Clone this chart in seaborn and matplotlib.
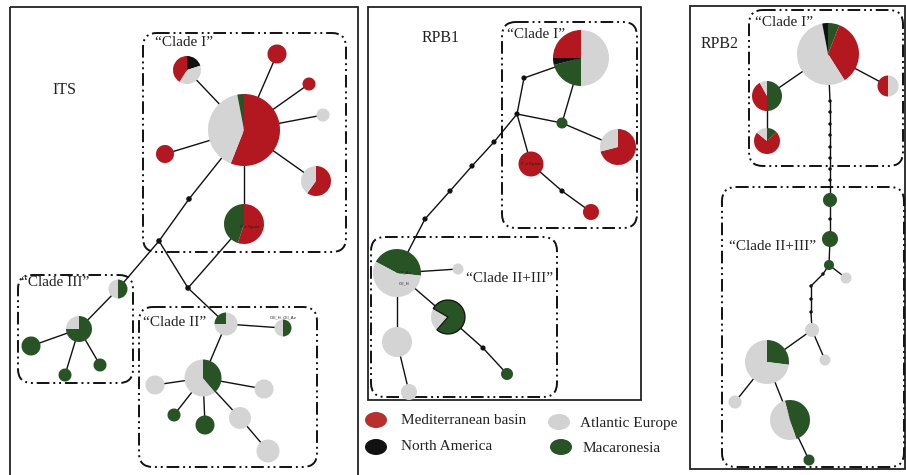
import numpy as np
import pandas as pd
import matplotlib
matplotlib.use("Agg")
import matplotlib.pyplot as plt
from matplotlib.patches import Wedge, FancyBboxPatch, Rectangle, Ellipse
import seaborn as sns

sns.set_theme(style="white")
plt.rcParams["font.family"] = ["Liberation Serif", "DejaVu Serif"]

# ---------------- colours / regions ----------------
regions = ["MB", "NA", "AE", "MAC"]
region_labels = ["Mediterranean basin", "North America", "Atlantic Europe", "Macaronesia"]
region_colors = ["#b3171f", "#111111", "#d4d4d4", "#285325"]
COL = dict(zip(regions, region_colors))

# ---------------- ITS network ----------------
its_names = ["c", "tl", "t", "r1", "r2", "l", "br", "b",
             "c3a", "c3", "c3b", "c3c", "c3d",
             "c2a", "c2b", "c2", "c2c", "c2d", "c2e", "c2f", "c2g", "c2h"]
its_x = [244, 187, 277, 309, 323, 165, 316, 244,
         118, 79, 31, 65, 100,
         226, 283, 203, 155, 264, 174, 205, 240, 268]
its_y = [130, 70, 54, 84, 115, 154, 181, 224,
         289, 329, 346, 375, 365,
         324, 328, 378, 385, 389, 415, 425, 418, 451]
its_r = [36, 14, 9.5, 6.5, 6.5, 9, 15, 20,
         9.5, 13, 9.5, 6.5, 6.5,
         11.5, 8.5, 18.5, 9.5, 9.5, 6.5, 9.5, 11, 11.5]
its_start = [0] * 22
its_comp = [
    [("MB", .56), ("AE", .41), ("MAC", .03)],
    [("NA", .20), ("AE", .39), ("MB", .41)],
    [("MB", 1)], [("MB", 1)], [("AE", 1)], [("MB", 1)],
    [("MB", .60), ("AE", .40)],
    [("MB", .55), ("MAC", .45)],
    [("MAC", .5), ("AE", .5)],
    [("MAC", .75), ("AE", .25)],
    [("MAC", 1)], [("MAC", 1)], [("MAC", 1)],
    [("AE", .75), ("MAC", .25)],
    [("MAC", .5), ("AE", .5)],
    [("MAC", .39), ("AE", .61)],
    [("AE", 1)], [("AE", 1)], [("MAC", 1)], [("MAC", 1)], [("AE", 1)], [("AE", 1)],
]
its_dot_names = ["d1", "d2", "d3"]
its_dot_x = [189, 159, 188]
its_dot_y = [199, 241, 288]
its_edges = [("c", "tl"), ("c", "t"), ("c", "r1"), ("c", "r2"), ("c", "l"), ("c", "br"),
             ("c", "b"), ("c", "d1"), ("d1", "d2"), ("d2", "c3a"), ("d2", "d3"), ("b", "d3"),
             ("d3", "c2a"), ("c3a", "c3"), ("c3", "c3b"), ("c3", "c3c"), ("c3", "c3d"),
             ("c2a", "c2b"), ("c2a", "c2"), ("c2", "c2c"), ("c2", "c2d"), ("c2", "c2e"),
             ("c2", "c2f"), ("c2", "c2g"), ("c2g", "c2h")]

# ---------------- RPB1 network ----------------
rpb1_names = ["big", "g1", "p2", "rr", "rs", "B", "gs", "p3", "g4", "g5", "gn"]
rpb1_x = [581, 562, 618, 531, 591, 397, 458, 448, 397, 409, 507]
rpb1_y = [58, 123, 147, 164, 212, 273, 269, 317, 342, 392, 374]
rpb1_r = [28, 5.5, 18, 12.5, 8, 24, 5.5, 17, 15, 8, 6]
rpb1_start = [0, 0, 0, 0, 0, 298, 0, 300, 0, 0, 0]
rpb1_comp = [
    [("AE", .50), ("MAC", .21), ("NA", .04), ("MB", .25)],
    [("MAC", 1)],
    [("MB", .71), ("AE", .29)],
    [("MB", 1)], [("MB", 1)],
    [("MAC", .44), ("AE", .56)],
    [("AE", 1)],
    [("MAC", .78), ("AE", .22)],
    [("AE", 1)], [("AE", 1)], [("MAC", 1)],
]
rpb1_dot_names = ["e1", "e2", "e3", "e4", "e5", "e6", "e7", "e8"]
rpb1_dot_x = [524, 517, 494, 472, 450, 425, 562, 483]
rpb1_dot_y = [78, 114, 142, 166, 191, 219, 191, 348]
rpb1_edges = [("big", "e1"), ("e1", "e2"), ("big", "g1"), ("g1", "p2"), ("e2", "g1"),
              ("e2", "rr"), ("rr", "e7"), ("e7", "rs"), ("e2", "e3"), ("e3", "e4"),
              ("e4", "e5"), ("e5", "e6"), ("e6", "B"), ("B", "gs"), ("B", "p3"),
              ("B", "g4"), ("g4", "g5"), ("p3", "e8"), ("e8", "gn")]

# ---------------- RPB2 network ----------------
rpb2_names = ["big", "q1", "q2", "q3", "n1", "n2", "n3", "n4", "n5", "n6", "P", "n7", "P2", "n8"]
rpb2_x = [828, 767, 767, 888, 830, 830, 829, 846, 812, 825, 767, 735, 790, 809]
rpb2_y = [54, 96, 141, 86, 200, 239, 265, 278, 330, 360, 362, 402, 420, 460]
rpb2_r = [31, 15, 13, 10.5, 7, 8, 5, 5.5, 7, 5.5, 22, 6.5, 20, 5.5]
rpb2_start = [0] * 12 + [345, 0]
rpb2_comp = [
    [("MAC", .06), ("MB", .35), ("AE", .56), ("NA", .03)],
    [("MAC", .50), ("MB", .42), ("AE", .08)],
    [("MAC", .13), ("MB", .73), ("AE", .14)],
    [("AE", .5), ("MB", .5)],
    [("MAC", 1)], [("MAC", 1)], [("MAC", 1)], [("AE", 1)], [("AE", 1)], [("AE", 1)],
    [("MAC", .27), ("AE", .73)],
    [("AE", 1)],
    [("MAC", .49), ("AE", .51)],
    [("MAC", 1)],
]
rpb2_dot_names = ["f1", "f2", "f3", "f4", "f5", "f6", "f7", "f8", "f9", "h1", "h2", "h3", "h4"]
rpb2_dot_x = [830, 830, 830, 830, 830, 830, 830, 830, 830, 823, 811, 811, 811]
rpb2_dot_y = [101, 112, 124, 135, 147, 158, 169, 180, 219, 274, 286, 299, 312]
rpb2_edges = [("big", "q1"), ("q1", "q2"), ("big", "q3"), ("big", "f1"), ("f1", "f2"),
              ("f2", "f3"), ("f3", "f4"), ("f4", "f5"), ("f5", "f6"), ("f6", "f7"),
              ("f7", "f8"), ("f8", "n1"), ("n1", "f9"), ("f9", "n2"), ("n2", "n3"),
              ("n3", "n4"), ("n3", "h1"), ("h1", "h2"), ("h2", "h3"), ("h3", "h4"),
              ("h4", "n5"), ("n5", "n6"), ("n5", "P"), ("P", "n7"), ("P", "P2"), ("P2", "n8")]

# ---------------- frames, clade boxes, labels ----------------
panel_boxes = [(10, 7, 358, 480), (368, 7, 641, 400), (690, 6, 905, 469)]
clade_boxes = [(143, 33, 346, 252), (18, 275, 133, 383), (139, 307, 317, 467),
               (502, 22, 637, 228), (371, 237, 557, 397),
               (749, 10, 903, 166), (722, 187, 904, 467)]
panel_titles = ["ITS", "RPB1", "RPB2"]
panel_title_xy = [(64, 90), (441, 38), (720, 44)]
clade_labels = ["\u201cClade I\u201d", "\u201cClade III\u201d", "\u201cClade II\u201d",
                "\u201cClade I\u201d", "\u201cClade II+III\u201d",
                "\u201cClade I\u201d", "\u201cClade II+III\u201d"]
clade_label_xy = [(155, 43), (21, 283), (143, 322), (507, 34), (466, 278), (755, 23), (729, 247)]
tiny_labels = ["P. a Spain", "P. a Spain", "OII_H  OII_Az", "OII_Az", "OII_H"]
tiny_xy = [(250, 227), (531, 164), (283, 317), (405, 272), (404, 283)]

# ---------------- figure ----------------
fig = plt.figure(figsize=(9.06, 4.75), dpi=100)
ax = fig.add_axes([0, 0, 1, 1])
ax.set_xlim(0, 906)
ax.set_ylim(475, 0)
ax.set_axis_off()

panels = [
    (its_names, its_x, its_y, its_r, its_start, its_comp, its_dot_names, its_dot_x, its_dot_y, its_edges, 16),
    (rpb1_names, rpb1_x, rpb1_y, rpb1_r, rpb1_start, rpb1_comp, rpb1_dot_names, rpb1_dot_x, rpb1_dot_y, rpb1_edges, 14),
    (rpb2_names, rpb2_x, rpb2_y, rpb2_r, rpb2_start, rpb2_comp, rpb2_dot_names, rpb2_dot_x, rpb2_dot_y, rpb2_edges, 6),
]
outlined = {("RPB1", "p3")}

for title, (names, xs, ys, rs, starts, comps, dnames, dxs, dys, edges, dsize) in zip(panel_titles, panels):
    pos = {n: (x, y) for n, x, y in zip(names, xs, ys)}
    pos.update({n: (x, y) for n, x, y in zip(dnames, dxs, dys)})
    for a, b in edges:
        (x1, y1), (x2, y2) = pos[a], pos[b]
        ax.plot([x1, x2], [y1, y2], color="#111111", lw=1.0, zorder=2)
    dots = pd.DataFrame({"x": dxs, "y": dys})
    sns.scatterplot(data=dots, x="x", y="y", ax=ax, color="#111111", s=dsize,
                    edgecolor="none", zorder=4, legend=False)
    for n, x, y, r, st, comp in zip(names, xs, ys, rs, starts, comps):
        ang = st
        for reg, frac in comp:
            a1 = ang
            a2 = ang + frac * 360
            w = Wedge((x, y), r, -90 + a1, -90 + a2, facecolor=COL[reg],
                      edgecolor="none", zorder=3)
            ax.add_patch(w)
            ang = a2
        if (title, n) in outlined:
            ax.add_patch(Wedge((x, y), r, -90 + st, -90 + st + comp[0][1] * 360,
                               facecolor="none", edgecolor="#111111", lw=0.9, zorder=3.5))

ax.set_xlim(0, 906)
ax.set_ylim(475, 0)

for (x0, y0, x1, y1) in panel_boxes:
    ax.add_patch(Rectangle((x0, y0), x1 - x0, y1 - y0, facecolor="none",
                           edgecolor="#222222", lw=1.3, zorder=1))
for (x0, y0, x1, y1) in clade_boxes:
    ax.add_patch(FancyBboxPatch((x0, y0), x1 - x0, y1 - y0,
                                boxstyle="round,pad=0,rounding_size=14",
                                facecolor="none", edgecolor="#111111", lw=1.4,
                                linestyle=(0, (6.5, 2, 1, 2, 1, 2)), zorder=1))

for t, (x, y) in zip(panel_titles, panel_title_xy):
    ax.text(x, y, t, fontsize=11.5, ha="center", va="center", color="#222222", zorder=6)
for t, (x, y) in zip(clade_labels, clade_label_xy):
    ax.text(x, y, t, fontsize=11, ha="left", va="center", color="#222222", zorder=6)
for t, (x, y) in zip(tiny_labels, tiny_xy):
    ax.text(x, y, t, fontsize=3, ha="center", va="center", color="#222222",
            family="DejaVu Sans", zorder=6)

# ---------------- legend ----------------
legend_xy = [(376, 420), (376, 447), (559, 422), (561, 447)]
legend_text_xy = [(401, 421), (401, 446), (580, 423), (583, 448)]
legend_colors = ["#b8302e", "#111111", "#d2d2d2", "#285325"]
for lab, c, (ex, ey), (tx, ty) in zip(region_labels, legend_colors, legend_xy, legend_text_xy):
    ax.add_patch(Ellipse((ex, ey), 22, 16, facecolor=c, edgecolor="none", zorder=5))
    ax.text(tx, ty, lab, fontsize=11, ha="left", va="center", color="#222222", zorder=6)

fig.savefig("out.png", dpi=100)
